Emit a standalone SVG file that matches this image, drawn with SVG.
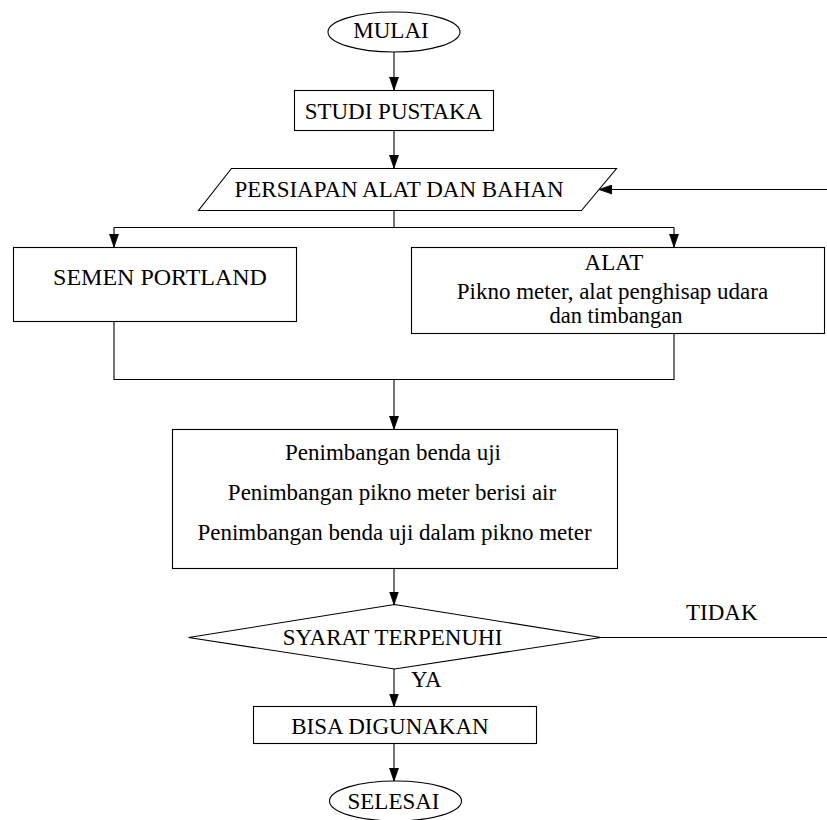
<svg xmlns="http://www.w3.org/2000/svg" width="827" height="820" viewBox="0 0 827 820">
  <style>
    .shape { fill: #ffffff; stroke: #000000; stroke-width: 1.1; }
    .wire { fill: none; stroke: #000000; stroke-width: 1.1; }
    .label { font-family: "Liberation Serif", "Times New Roman", serif; font-size: 23px; fill: #000000; text-anchor: middle; }
    .plain { font-family: "Liberation Serif", "Times New Roman", serif; font-size: 23px; fill: #000000; }
  </style>
  <defs>
    <marker id="head" viewBox="0 0 13 10" refX="13" refY="5" markerWidth="13" markerHeight="10" markerUnits="userSpaceOnUse" orient="auto">
      <path d="M0,0.5 L13,5 L0,9.5 z" fill="#000000" stroke="#000000" stroke-width="0.8"/>
    </marker>
  </defs>

  <rect width="827" height="820" fill="#ffffff"/>

  <!-- connectors -->
  <g id="connectors">
    <line class="wire" x1="394" y1="52" x2="394" y2="90" marker-end="url(#head)"/>
    <line class="wire" x1="394" y1="130" x2="394" y2="168" marker-end="url(#head)"/>
    <!-- split to material and tools -->
    <polyline class="wire" points="394,210 394,227.5"/>
    <line class="wire" x1="114" y1="227.5" x2="674" y2="227.5"/>
    <line class="wire" x1="114" y1="227.5" x2="114" y2="247" marker-end="url(#head)"/>
    <line class="wire" x1="674" y1="227.5" x2="674" y2="247" marker-end="url(#head)"/>
    <!-- merge -->
    <polyline class="wire" points="114,322 114,379.5 674,379.5 674,334"/>
    <line class="wire" x1="394" y1="379.5" x2="394" y2="429" marker-end="url(#head)"/>
    <line class="wire" x1="394" y1="568" x2="394" y2="604.5" marker-end="url(#head)"/>
    <!-- yes branch -->
    <line class="wire" x1="394" y1="669" x2="394" y2="706.5" marker-end="url(#head)"/>
    <line class="wire" x1="394" y1="743.5" x2="394" y2="781" marker-end="url(#head)"/>
    <!-- no branch, loops back -->
    <line class="wire" x1="601" y1="637.5" x2="827" y2="637.5"/>
    <line class="wire" x1="827" y1="189.5" x2="599" y2="189.5" marker-end="url(#head)"/>
    <text class="plain" x="686" y="620">TIDAK</text>
    <text class="plain" x="411" y="687">YA</text>
  </g>

  <g id="mulai">
    <ellipse class="shape" cx="394" cy="32" rx="66" ry="20"/>
    <text class="label" x="391" y="37.5">MULAI</text>
  </g>

  <g id="studi-pustaka">
    <rect class="shape" x="294.5" y="90.5" width="199" height="40"/>
    <text class="label" x="393.5" y="118.5">STUDI PUSTAKA</text>
  </g>

  <g id="persiapan">
    <polygon class="shape" points="231.5,168.5 616.5,168.5 581.5,210.5 198.5,210.5"/>
    <text class="label" x="399" y="197">PERSIAPAN ALAT DAN BAHAN</text>
  </g>

  <g id="semen-portland">
    <rect class="shape" x="13.5" y="247.5" width="283" height="74"/>
    <text class="label" x="160" y="284.5" style="font-size:24px">SEMEN PORTLAND</text>
  </g>

  <g id="alat">
    <rect class="shape" x="411.5" y="247.5" width="413" height="86"/>
    <text class="label" x="614" y="269.5">ALAT</text>
    <text class="label" x="612.5" y="298.5">Pikno meter, alat penghisap udara</text>
    <text class="label" x="616" y="322.5" style="font-size:22.5px">dan timbangan</text>
  </g>

  <g id="penimbangan">
    <rect class="shape" x="172.5" y="429.5" width="445" height="139"/>
    <text class="label" x="393" y="460">Penimbangan benda uji</text>
    <text class="label" x="392" y="500">Penimbangan pikno meter berisi air</text>
    <text class="label" x="394.5" y="539.5">Penimbangan benda uji dalam pikno meter</text>
  </g>

  <g id="syarat">
    <polygon class="shape" points="394.5,604.5 601,637.5 394.5,669 188.5,637.5"/>
    <text class="label" x="392.5" y="645">SYARAT TERPENUHI</text>
  </g>

  <g id="bisa-digunakan">
    <rect class="shape" x="253.5" y="706.5" width="283" height="37"/>
    <text class="label" x="390" y="733.5">BISA DIGUNAKAN</text>
  </g>

  <g id="selesai">
    <ellipse class="shape" cx="395.5" cy="801" rx="66" ry="20"/>
    <text class="label" x="393.5" y="808.5">SELESAI</text>
  </g>
</svg>
